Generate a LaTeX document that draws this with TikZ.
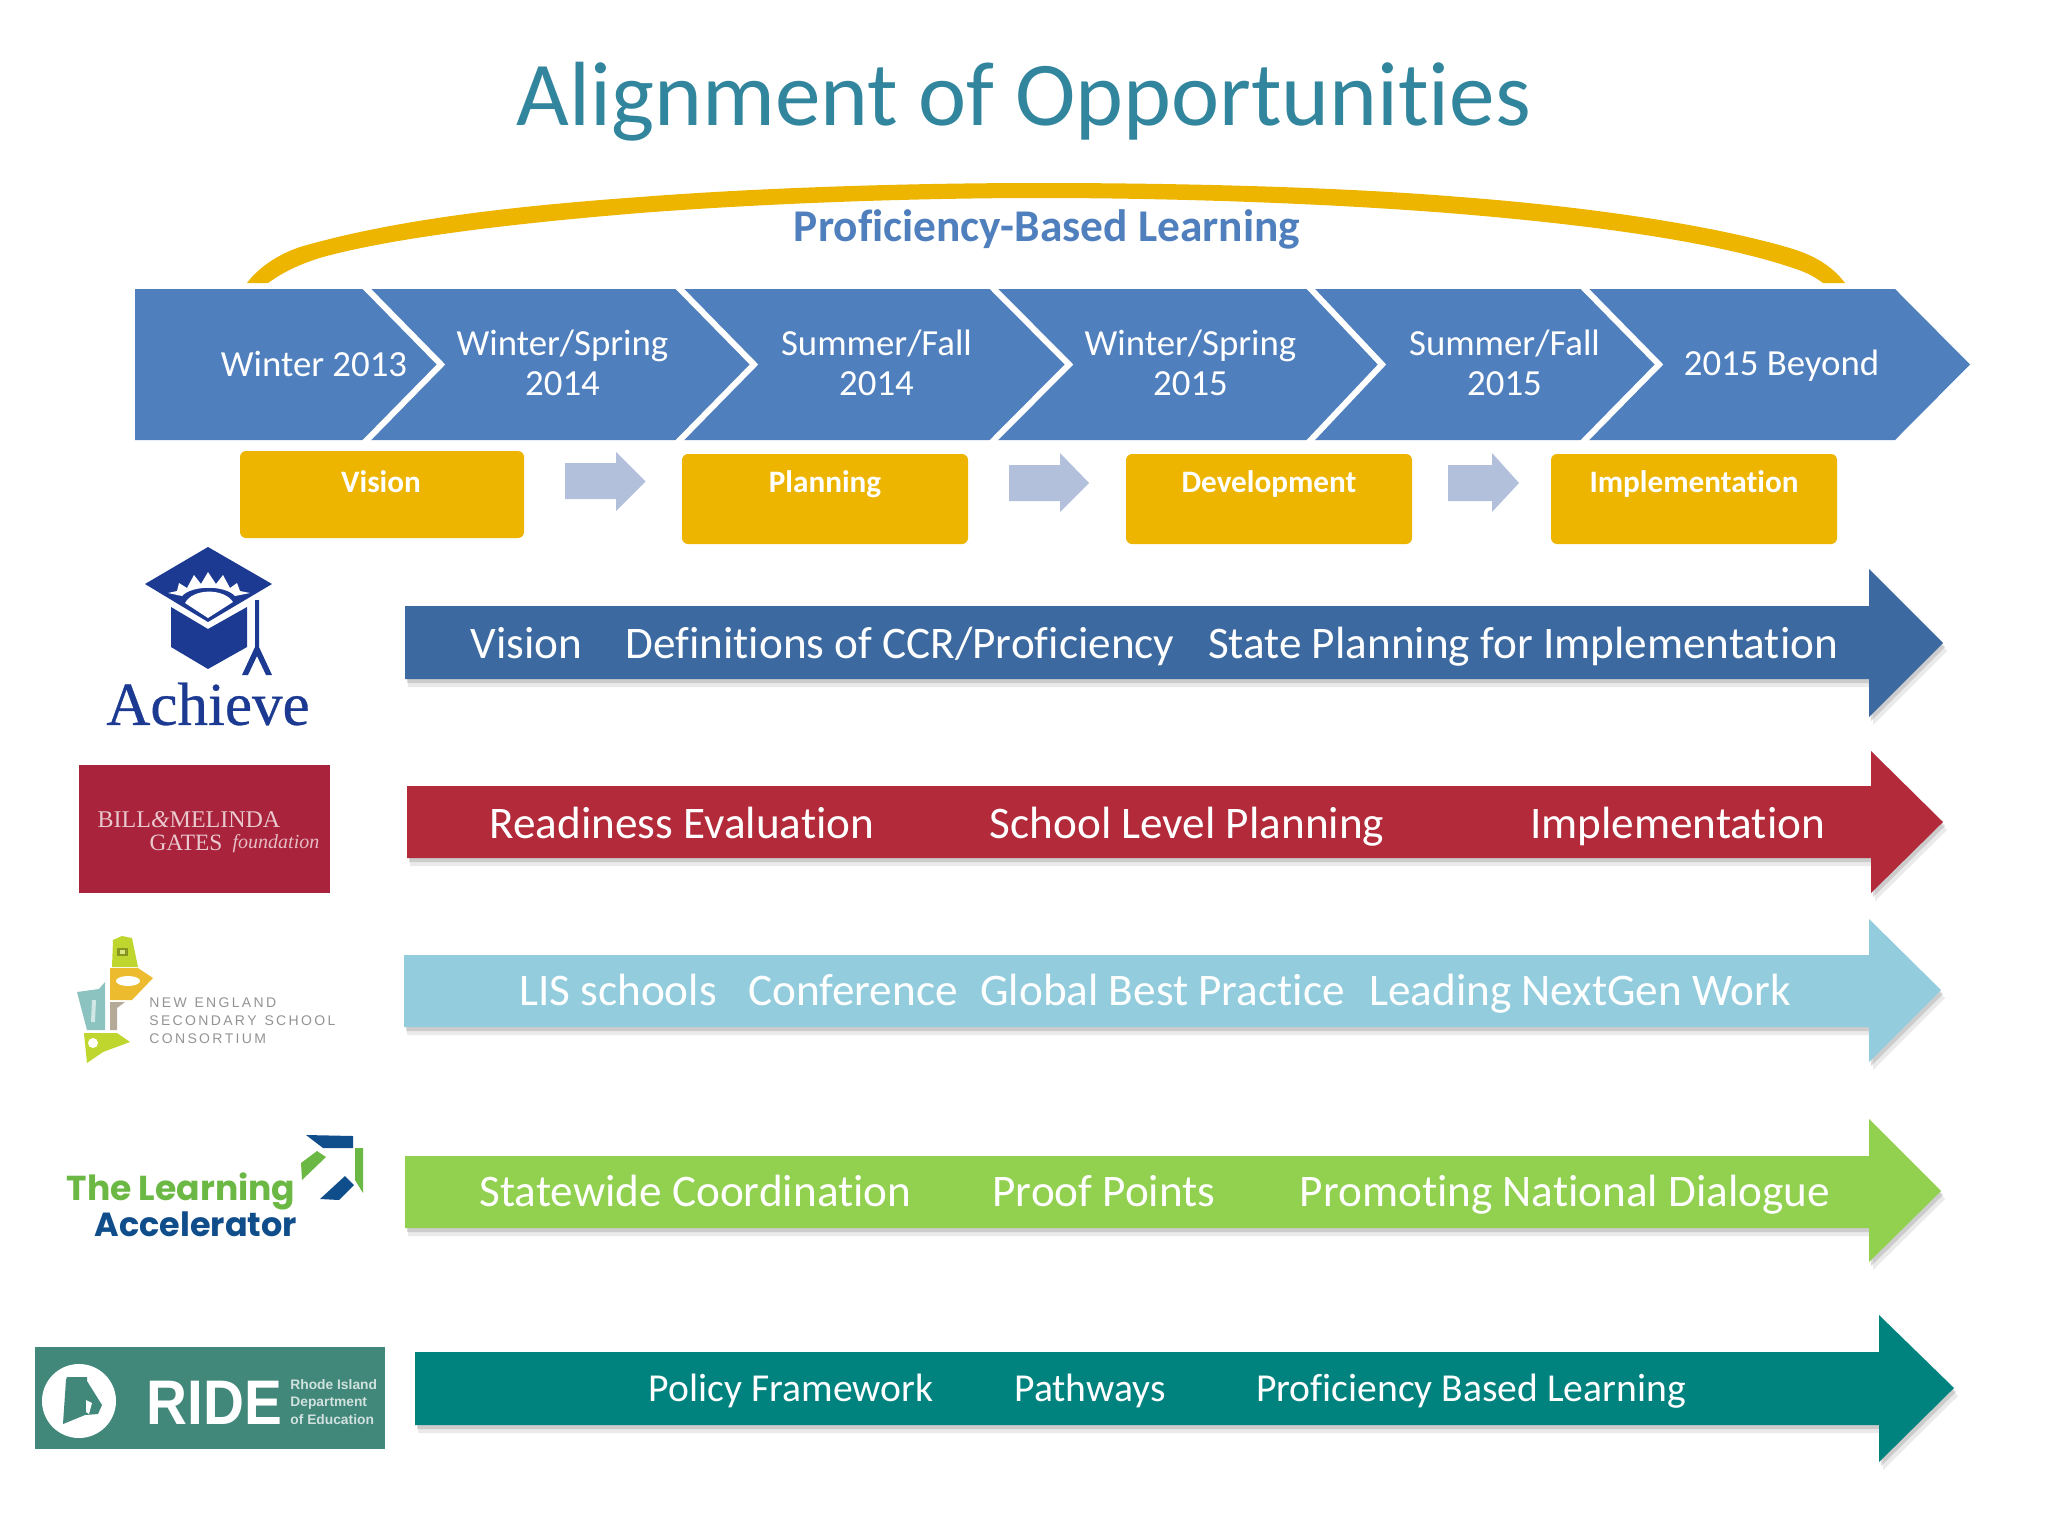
\documentclass[tikz,border=0pt]{standalone}
\usepackage{graphicx}
\usepackage{fontspec}
\setmainfont[Ligatures=NoCommon]{Carlito}
\newfontfamily\logoserif{Liberation Serif}
\newfontfamily\logoheavy[FakeBold=0.5]{Liberation Serif}
\newfontfamily\logosans{Liberation Sans}
\newfontfamily\logopop{Poppins}
\usetikzlibrary{calc}
\definecolor{bandblue}{HTML}{4F7FBD}
\definecolor{gold}{HTML}{EDB500}
\definecolor{paleblue}{HTML}{B3C0DC}
\definecolor{titleteal}{HTML}{31859C}
\definecolor{pblblue}{HTML}{4F7FBD}
\definecolor{achblue}{HTML}{3C699F}
\definecolor{gatesred}{HTML}{B32B3A}
\definecolor{skyblue}{HTML}{93CDDD}
\definecolor{lime}{HTML}{92D050}
\definecolor{ridearrow}{HTML}{00827F}
\definecolor{achlogo}{HTML}{1D3A92}
\definecolor{gateslogo}{HTML}{A8233B}
\definecolor{ridelogo}{HTML}{41877A}
\definecolor{tlagreen}{HTML}{6CB845}
\definecolor{tlablue}{HTML}{104E8B}
\definecolor{nelime}{HTML}{BFD62F}
\definecolor{negold}{HTML}{EDBB2E}
\definecolor{nesky}{HTML}{8CC3C0}
\definecolor{negrey}{HTML}{B5A998}
\tikzset{
  bandtext/.style={text=white,font=\fontsize{18.4}{20}\selectfont,align=center,inner sep=0pt},
  goldbox/.style={fill=gold,rounded corners=3pt,draw=none},
  goldtext/.style={text=white,font=\bfseries\fontsize{15.6}{17}\selectfont,inner sep=0pt},
  palearrow/.style={fill=paleblue,draw=none},
  chevline/.style={draw=white,line width=3pt,miter limit=10},
  rowtext/.style={text=white,font=\fontsize{22.6}{24}\selectfont,inner sep=0pt,anchor=base},
  ridetext/.style={text=white,font=\fontsize{19.8}{22}\selectfont,inner sep=0pt,anchor=base},
}
% #1 colour, #2 x left, #3 shaft top, #4 shaft bottom, #5 head x, #6 head top, #7 head bottom, #8 tip x, #9 tip y
\newcommand{\bigarrow}[9]{%
  \fill[black!55,opacity=.15] (#2+3,#3+8) -- (#5+4,#3+8) -- (#5+4,#6+8) -- (#8+4,#9+8) -- (#5+4,#7+8) -- (#5+4,#4+8) -- (#2+3,#4+8) -- cycle;
  \fill[black!55,opacity=.25] (#2+2,#3+4) -- (#5+2,#3+4) -- (#5+2,#6+4) -- (#8+2,#9+4) -- (#5+2,#7+4) -- (#5+2,#4+4) -- (#2+2,#4+4) -- cycle;
  \fill[#1] (#2,#3) -- (#5,#3) -- (#5,#6) -- (#8,#9) -- (#5,#7) -- (#5,#4) -- (#2,#4) -- cycle;
}
\begin{document}
\begin{tikzpicture}[x=0.5pt,y=-0.5pt]
\useasboundingbox (0,0) rectangle (2048,1536);
\fill[white] (0,0) rectangle (2048,1536);

% title
\node[text=titleteal,font=\fontsize{45.6}{48}\selectfont,inner sep=0pt] (title) at (1024,102) {Alignment of Opportunities};

% crescent
\fill[gold] (247,283) .. controls (258,268) and (280,252) .. (307,245)
  .. controls (407,217) and (530,205) .. (640,197)
  .. controls (770,187) and (920,183) .. (1040,183)
  .. controls (1180,183) and (1340,187) .. (1460,197)
  .. controls (1580,206) and (1710,224) .. (1793,249)
  .. controls (1815,256) and (1832,266) .. (1845,283)
  -- (1823,283)
  .. controls (1812,275) and (1805,272) .. (1793,268)
  .. controls (1710,240) and (1580,224) .. (1460,214)
  .. controls (1340,204) and (1180,198) .. (1040,198)
  .. controls (920,198) and (770,203) .. (640,213)
  .. controls (530,222) and (400,236) .. (323,257)
  .. controls (300,264) and (285,271) .. (268,283) -- cycle;
\node[text=pblblue,font=\bfseries\fontsize{22.7}{24}\selectfont,inner sep=0pt] (pbl) at (1047,229) {Proficiency-Based Learning};

% chevron band
\fill[bandblue] (135,289) -- (1895,289) -- (1970,364.5) -- (1895,440) -- (135,440) -- cycle;
\draw[chevline] (364,286) -- (441,364.5) -- (364,443);
\draw[chevline] (677,286) -- (754,364.5) -- (677,443);
\draw[chevline] (991,286) -- (1069,364.5) -- (991,443);
\draw[chevline] (1308,286) -- (1382,364.5) -- (1308,443);
\draw[chevline] (1582,286) -- (1659,364.5) -- (1582,443);
\node[bandtext] (c1) at (314,364) {Winter 2013};
\node[bandtext] (c2) at (562.5,363) {Winter/Spring\\2014};
\node[bandtext] (c3) at (876.5,363) {Summer/Fall\\2014};
\node[bandtext] (c4) at (1190.5,363) {Winter/Spring\\2015};
\node[bandtext] (c5) at (1504.5,363) {Summer/Fall\\2015};
\node[bandtext] (c6) at (1781.5,366) {2015 Beyond};

% gold boxes
\fill[goldbox] (240,451) rectangle (524,538);
\fill[goldbox] (682,454) rectangle (968,544);
\fill[goldbox] (1126,454) rectangle (1412,544);
\fill[goldbox] (1551,454) rectangle (1837,544);
\node[goldtext] (g1) at (381,482) {Vision};
\node[goldtext] (g2) at (825,484.5) {Planning};
\node[goldtext] (g3) at (1269,484.5) {Development};
\node[goldtext] (g4) at (1694,484.5) {Implementation};

% pale arrows
\fill[palearrow] (565,463) -- (616,463) -- (616,452) -- (645.5,481.5) -- (616,511) -- (616,499) -- (565,499) -- cycle;
\fill[palearrow] (1009,465) -- (1060,465) -- (1060,453) -- (1089,483) -- (1060,512) -- (1060,501) -- (1009,501) -- cycle;
\fill[palearrow] (1448,465) -- (1492,465) -- (1492,453) -- (1519,483) -- (1492,512) -- (1492,501) -- (1448,501) -- cycle;

% big arrows
\bigarrow{achblue}{405}{606}{679}{1869}{569}{717}{1943}{643}
\bigarrow{gatesred}{407}{786}{858}{1871}{751}{893}{1943}{822}
\bigarrow{skyblue}{404}{955}{1027}{1869}{919}{1062}{1941}{990}
\bigarrow{lime}{405}{1156}{1228}{1869}{1119}{1262}{1941}{1191}
\bigarrow{ridearrow}{415}{1352}{1425}{1879}{1315}{1462}{1954}{1388}

% row texts
\node[rowtext] (a1) at (526.5,658.5) {Vision};
\node[rowtext] (a2) at (900,658.5) {Definitions of CCR/Proficiency};
\node[rowtext] (a3) at (1523,658.5) {State Planning for Implementation};
\node[rowtext] (b1) at (682,838) {Readiness Evaluation};
\node[rowtext] (b2) at (1187,838) {School Level Planning};
\node[rowtext] (b3) at (1677.5,838) {Implementation};
\node[rowtext] (n1) at (618,1005.5) {LIS schools};
\node[rowtext] (n2) at (853,1005.5) {Conference};
\node[rowtext] (n3) at (1162.5,1005.5) {Global Best Practice};
\node[rowtext] (n4) at (1580,1005.5) {Leading NextGen Work};
\node[rowtext] (t1) at (695.5,1206.5) {Statewide Coordination};
\node[rowtext] (t2) at (1104,1206.5) {Proof Points};
\node[rowtext] (t3) at (1565,1206.5) {Promoting National Dialogue};
\node[ridetext] (r1) at (791,1401) {Policy Framework};
\node[ridetext] (r2) at (1090,1401) {Pathways};
\node[ridetext] (r3) at (1471,1401) {Proficiency Based Learning};

% Achieve logo
\fill[achlogo] (208,547) -- (272,584) -- (208,622) -- (145,584) -- cycle;
\fill[white] (168,593) -- (177,591) -- (179,583) -- (187,588) -- (194,575) -- (201,584) -- (208,572) -- (216,584) -- (223,575) -- (230,588) -- (237,583) -- (240,591) -- (250,593) -- (235,596)
  .. controls (225,585) and (192,585) .. (182,596) -- cycle;
\fill[white] (185,603) .. controls (193,588) and (224,588) .. (233,602) -- (208,618) -- cycle;
\fill[achlogo] (171,607) -- (208,629) -- (247,607) -- (247,647) -- (208,669) -- (171,647) -- cycle;
\fill[achlogo] (255,600) -- (259,600) -- (259,647) -- (272,675) -- (266,675) -- (257,656) -- (248,675) -- (242,675) -- (255,647) -- cycle;
\node[text=achlogo,font=\logoheavy\fontsize{30.5}{32}\selectfont,inner sep=0pt] (achieve) at (208,704) {Achieve};

% Gates logo
\fill[gateslogo] (79,765) rectangle (330,893);
\node[text=white!75!gateslogo,font=\logoserif\fontsize{12}{13}\selectfont,inner sep=0pt,anchor=base] (gl1) at (189,827) {BILL\textit{\&}MELINDA};
\node[text=white!75!gateslogo,font=\logoserif\fontsize{11.7}{13}\selectfont,inner sep=0pt,anchor=base] (gl2) at (186,850) {GATES};
\node[text=white!70!gateslogo,font=\logoserif\itshape\fontsize{10}{11}\selectfont,inner sep=0pt,anchor=base] (gl3) at (276,848) {foundation};

% NESSC logo
\fill[nelime] (113,940) -- (122,936) -- (132,938) -- (138,967) -- (112,967) -- cycle;
\fill[nelime!70!black] (117,948) rectangle (128,956);
\fill[white!40!nelime] (120,950) rectangle (125,954);
\fill[negold] (110,968) -- (138,968) -- (153,978) -- (132,1000) -- (110,1000) -- cycle;
\fill[white] (128,981) ellipse [x radius=12,y radius=5];
\fill[negrey] (110,1002) -- (125,1002) -- (117,1008) -- (117,1030) -- (110,1030) -- cycle;
\fill[nesky] (77,992) -- (99,989) -- (105,982) -- (105,1030) -- (87,1030) -- cycle;
\fill[white!60!nesky] (92,1000) -- (96,1000) -- (95,1022) -- (91,1022) -- cycle;
\fill[nelime] (84,1033) -- (117,1033) -- (130,1042) -- (103,1052) -- (87,1063) -- cycle;
\fill[white] (93,1043) circle [radius=5];
\node[text=black!42,font=\logosans\fontsize{7}{9}\selectfont,align=left,inner sep=0pt,anchor=west] (ne) at (149,1021) {N\,E\,W\ \ E\,N\,G\,L\,A\,N\,D\\S\,E\,C\,O\,N\,D\,A\,R\,Y\ \ S\,C\,H\,O\,O\,L\\C\,O\,N\,S\,O\,R\,T\,I\,U\,M};

% TLA logo
\fill[tlablue] (306,1135) -- (353,1136) -- (353,1148) -- (323,1148) -- cycle;
\fill[tlagreen] (301,1163) -- (317,1151) -- (326,1157) -- (302,1180) -- cycle;
\fill[tlagreen] (355,1148) -- (363,1148) -- (363,1193) -- (355,1180) -- cycle;
\fill[tlablue] (320,1199) -- (345,1176) -- (354,1185) -- (339,1200) -- cycle;
\node[text=tlagreen,font=\logopop\bfseries\fontsize{17.3}{18}\selectfont,inner sep=0pt,anchor=base] (tla1) at (181,1200) {The Learning};
\node[text=tlablue,font=\logopop\bfseries\fontsize{16.7}{18}\selectfont,inner sep=0pt,anchor=base] (tla2) at (196,1236) {Accelerator};

% RIDE logo
\fill[ridelogo] (35,1347) rectangle (385,1449);
\fill[white] (79,1401) ellipse [x radius=37,y radius=37];
\fill[ridelogo] (67,1377) -- (87,1377) -- (87,1381) -- (102,1405) -- (98,1414) -- (85,1415) -- (63,1424) -- (66,1380) -- cycle;
\fill[white] (86,1400) -- (92,1403) -- (89,1414) -- (86,1412) -- cycle;
\node[text=white,font=\logosans\bfseries\fontsize{31.5}{32}\selectfont,inner sep=0pt,anchor=base] (ride) at (214.5,1424) {\scalebox{0.9}[1]{RIDE}};
\node[text=white!75!ridelogo,font=\logosans\bfseries\fontsize{6.9}{8.8}\selectfont,align=left,inner sep=0pt,anchor=west] (ridesub) at (290,1402) {Rhode Island\\Department\\of Education};
\end{tikzpicture}
\end{document}
